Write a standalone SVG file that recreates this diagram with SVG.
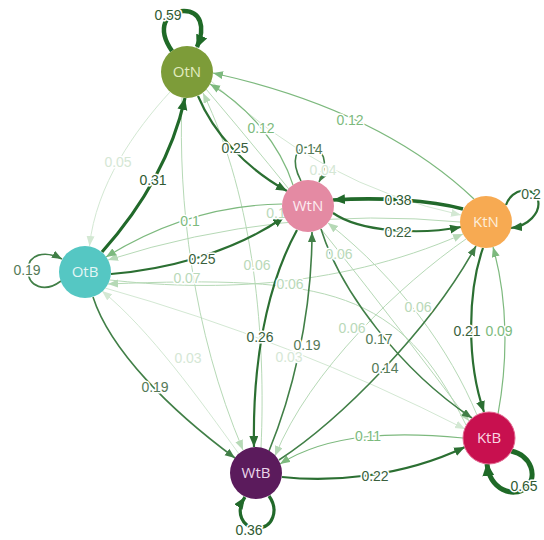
<svg xmlns="http://www.w3.org/2000/svg" width="544" height="540" viewBox="0 0 544 540">
<defs>
<style>
.e{fill:none;stroke-linecap:butt}
.c1{stroke:#1f6a27;stroke-width:5}
.c2{stroke:#21692a;stroke-width:3.2}
.c3{stroke:#2b6f32;stroke-width:2.2}
.c4{stroke:#417f47;stroke-width:1.6}
.c5{stroke:#7db97e;stroke-width:1.2}
.c6{stroke:#b6d9b6;stroke-width:1}
.c7{stroke:#d3e8d3;stroke-width:1}
.l{font-family:"Liberation Sans",Arial,sans-serif;font-size:14px;text-anchor:middle;paint-order:stroke;stroke:#fff;stroke-width:3px;stroke-linejoin:round}
.t1{fill:#2f5a33}
.t3{fill:#3a5f3d}
.t4{fill:#557a58}
.t5{fill:#7cba7d}
.t6{fill:#b9d9b9}
.t7{fill:#d5e7d5}
.n{font-family:"Open Sans","Liberation Sans",sans-serif;font-size:15px;text-anchor:middle}
</style>
<marker id="a1" markerUnits="userSpaceOnUse" markerWidth="14" markerHeight="12" refX="12" refY="6" orient="auto"><path d="M0,0 L13,6 L0,12 z" fill="#1f6a27"/></marker>
<marker id="a2" markerUnits="userSpaceOnUse" markerWidth="13" markerHeight="11" refX="12" refY="5" orient="auto"><path d="M0,0 L12,5 L0,10 z" fill="#21692a"/></marker>
<marker id="a3" markerUnits="userSpaceOnUse" markerWidth="12" markerHeight="10" refX="11" refY="4.5" orient="auto"><path d="M0,0 L11,4.5 L0,9 z" fill="#2b6f32"/></marker>
<marker id="a4" markerUnits="userSpaceOnUse" markerWidth="11" markerHeight="9" refX="10" refY="4" orient="auto"><path d="M0,0 L10,4 L0,8 z" fill="#417f47"/></marker>
<marker id="a5" markerUnits="userSpaceOnUse" markerWidth="11" markerHeight="9" refX="10" refY="4" orient="auto"><path d="M0,0 L10,4 L0,8 z" fill="#7db97e"/></marker>
<marker id="a6" markerUnits="userSpaceOnUse" markerWidth="11" markerHeight="9" refX="10" refY="4" orient="auto"><path d="M0,0 L10,4 L0,8 z" fill="#b6d9b6"/></marker>
<marker id="a7" markerUnits="userSpaceOnUse" markerWidth="11" markerHeight="9" refX="10" refY="4" orient="auto"><path d="M0,0 L10,4 L0,8 z" fill="#d3e8d3"/></marker>
</defs>
<rect width="544" height="540" fill="#fff"/>
<g id="connectors">
<path class="e c7" marker-end="url(#a7)" d="M170,92 C135,130 96,185 89.5,246"/>
<path class="e c7" marker-end="url(#a7)" d="M211,81 Q320,185 461,215"/>
<path class="e c7" marker-end="url(#a7)" d="M239,454 C200,400 150,330 102,291"/>
<path class="e c7" marker-end="url(#a7)" d="M105,288 Q290,340 465,429"/>
<path class="e c6" marker-end="url(#a6)" d="M460,222 Q280,205 108,260"/>
<path class="e c6" marker-end="url(#a6)" d="M110,280 C200,290 330,292 463,234"/>
<path class="e c6" marker-end="url(#a6)" d="M466,425 C400,290 330,275 108,284"/>
<path class="e c6" marker-end="url(#a6)" d="M182,98 C178,200 192,330 243,450"/>
<path class="e c6" marker-end="url(#a6)" d="M261,448 C266,340 255,200 203,93"/>
<path class="e c6" marker-end="url(#a6)" d="M477,415 C450,350 400,280 328,223"/>
<path class="e c6" marker-end="url(#a6)" d="M466,239 C400,285 310,370 275,456"/>
<path class="e c6" marker-end="url(#a6)" d="M206,89 Q330,235 469,421"/>
<path class="e c5" marker-end="url(#a5)" d="M293,185 C280,145 250,108 210,84"/>
<path class="e c5" marker-end="url(#a5)" d="M474,199 Q380,110 213,73"/>
<path class="e c5" marker-end="url(#a5)" d="M282,204 Q190,205 106,257"/>
<path class="e c5" marker-end="url(#a5)" d="M498,414 C508,360 508,300 493,247"/>
<path class="e c5" marker-end="url(#a5)" d="M463,438 C400,432 330,432 280,464"/>
<path class="e c4" marker-end="url(#a4)" d="M301,181 C290,160 296,147 309,147 C323,147 330,162 319,182"/>
<path class="e c4" marker-end="url(#a4)" d="M93,297 C110,350 170,410 235,458"/>
<path class="e c4" marker-end="url(#a4)" d="M61,281 C45,293 28,287 28,270 C28,254 45,250 62,259"/>
<path class="e c4" marker-end="url(#a4)" d="M269,451 C290,400 312,320 312,232"/>
<path class="e c4" marker-end="url(#a4)" d="M321,229 C340,290 400,370 472,418"/>
<path class="e c4" marker-end="url(#a4)" d="M279,460 C340,420 430,330 476,246"/>
<path class="e c3" marker-end="url(#a3)" d="M198,96 C213,132 245,168 287,191"/>
<path class="e c3" marker-end="url(#a3)" d="M333,213 C360,232 420,235 461,227"/>
<path class="e c3" marker-end="url(#a3)" d="M506,205 C512,188 533,185 538,200 C541,213 528,226 511,228"/>
<path class="e c3" marker-end="url(#a3)" d="M111,274 C160,270 230,255 284,217"/>
<path class="e c3" marker-end="url(#a3)" d="M297,230 C275,270 252,340 254,447"/>
<path class="e c3" marker-end="url(#a3)" d="M483,248 C468,290 466,360 484,412"/>
<path class="e c3" marker-end="url(#a3)" d="M282,477 C330,482 400,478 465,447"/>
<path class="e c2" marker-end="url(#a2)" d="M102,252 C135,215 170,165 185,98"/>
<path class="e c2" style="stroke-width:3.6" marker-end="url(#a2)" d="M463,209 C430,200 380,197 333,200"/>
<path class="e c2" marker-end="url(#a2)" d="M269,496 C279,510 273,528 257,528 C242,528 235,512 245,497"/>
<path class="e c1" style="stroke-width:4.5" marker-end="url(#a1)" d="M172,51 C156,28 166,11 184,11 C200,11 206,26 197,47"/>
<path class="e c1" marker-end="url(#a1)" d="M511,451 C532,455 538,478 526,488 C513,498 490,490 487,464"/>
<g id="labels">
<text class="l t1" x="168" y="20">0.59</text>
<text class="l t7" x="118" y="167">0.05</text>
<text class="l t1" x="153" y="185">0.31</text>
<text class="l t3" x="235" y="153">0.25</text>
<text class="l t5" x="261" y="133">0.12</text>
<text class="l t5" x="350" y="125">0.12</text>
<text class="l t4" x="309" y="154">0.14</text>
<text class="l t7" x="323" y="175">0.04</text>
<text class="l t1" x="398" y="205">0.38</text>
<text class="l t3" x="398" y="237">0.22</text>
<text class="l t3" x="531" y="199">0.2</text>
<text class="l t5" x="190" y="226">0.1</text>
<text class="l t6" x="276" y="218">0.1</text>
<text class="l t3" x="202" y="264">0.25</text>
<text class="l t6" x="187" y="283">0.07</text>
<text class="l t6" x="257" y="270">0.06</text>
<text class="l t6" x="290" y="289">0.06</text>
<text class="l t6" x="339" y="259">0.06</text>
<text class="l t6" x="418" y="312">0.06</text>
<text class="l t6" x="352" y="333">0.06</text>
<text class="l t4" x="27" y="275">0.19</text>
<text class="l t3" x="260" y="342">0.26</text>
<text class="l t4" x="307" y="350">0.19</text>
<text class="l t4" x="379" y="344">0.17</text>
<text class="l t4" x="385" y="373">0.14</text>
<text class="l t3" x="467" y="336">0.21</text>
<text class="l t5" x="499" y="336">0.09</text>
<text class="l t7" x="188" y="363">0.03</text>
<text class="l t7" x="289" y="362">0.03</text>
<text class="l t4" x="155" y="392">0.19</text>
<text class="l t5" x="368" y="441">0.11</text>
<text class="l t3" x="375" y="481">0.22</text>
<text class="l t1" x="524" y="491">0.65</text>
<text class="l t1" x="249" y="535">0.36</text>
</g>
</g>
<g id="OtN"><circle cx="187" cy="72" r="26" fill="#7d9c39"/><text class="n" x="187" y="77" fill="#e2ecc0">OtN</text></g>
<g id="WtN"><circle cx="308" cy="206" r="26" fill="#e48aa3"/><text class="n" x="308" y="211" fill="#fcecf1">WtN</text></g>
<g id="OtB"><circle cx="85" cy="272" r="26" fill="#55c7c3"/><text class="n" x="85" y="277" fill="#e3f6f5">OtB</text></g>
<g id="KtN"><circle cx="486" cy="222" r="26" fill="#f7aa52"/><text class="n" x="486" y="227" fill="#fdeedb">KtN</text></g>
<g id="WtB"><circle cx="256" cy="473" r="26" fill="#5b1b5c"/><text class="n" x="256" y="478" fill="#ead6ea">WtB</text></g>
<g id="KtB"><circle cx="489" cy="438" r="26" fill="#c8104f" stroke="#e2668f" stroke-width="1"/><text class="n" x="489" y="443" fill="#f9d6e2">KtB</text></g>
</svg>
